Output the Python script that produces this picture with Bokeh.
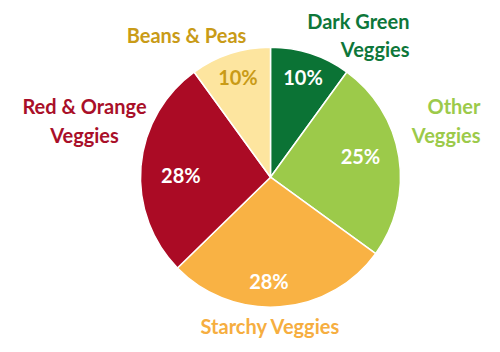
import math
from bokeh.plotting import figure
from bokeh.models import ColumnDataSource, Range1d
from bokeh.core.properties import value
from bokeh.embed import file_html
from bokeh.resources import INLINE

# ---- data ----
categories = ["Dark Green\nVeggies", "Other\nVeggies", "Starchy Veggies",
              "Red & Orange\nVeggies", "Beans & Peas"]
shares = [10.0, 25.0, 27.7, 27.3, 10.0]
pct_labels = ["10%", "25%", "28%", "28%", "10%"]

# ---- styles / layout ----
slice_colors = ["#0b7335", "#9cca4a", "#f9b244", "#ab0b25", "#fde59f"]
name_colors = ["#0e773a", "#9cca4a", "#f6ae40", "#a90f29", "#c99b17"]
pct_colors = ["white", "white", "white", "white", "#c99b17"]
pct_radius = [0.81, 0.71, 0.8, 0.69, 0.81]
pct_angle_shift_deg = [0.0, -4.0, 5.0, -3.5, 0.0]   # clockwise shift from mid-angle
name_x = [409, 480, 270, 84, 186]
name_y_px = [34.5, 120, 325, 120, 34]
name_align = ["right", "right", "center", "center", "center"]

W, H = 500, 352
cx, cy_px, R = 270, 176.7, 130

total = sum(shares)
starts, ends, px, py = [], [], [], []
cum = 0.0
for s, rf, sh in zip(shares, pct_radius, pct_angle_shift_deg):
    a0 = math.pi / 2 - 2 * math.pi * cum / total
    cum += s
    a1 = math.pi / 2 - 2 * math.pi * cum / total
    starts.append(a0)
    ends.append(a1)
    mid = (a0 + a1) / 2 - math.radians(sh)
    px.append(cx + rf * R * math.cos(mid))
    py.append((H - cy_px) + rf * R * math.sin(mid))

src = ColumnDataSource(dict(start=starts, end=ends, color=slice_colors,
                            px=px, py=py, pct=pct_labels, pcol=pct_colors))
nsrc = ColumnDataSource(dict(x=name_x, y=[H - v for v in name_y_px],
                             name=categories, col=name_colors, align=name_align))

p = figure(width=W, height=H, output_backend="svg", toolbar_location=None,
           x_range=Range1d(0, W), y_range=Range1d(0, H), min_border=0,
           x_axis_type=None, y_axis_type=None)
p.grid.visible = False
p.outline_line_color = None
p.background_fill_color = "white"
p.border_fill_color = "white"

p.wedge(x=cx, y=H - cy_px, radius=R, start_angle="start", end_angle="end",
        direction="clock", fill_color="color", line_color="white",
        line_width=1.5, source=src)

p.text(x="px", y="py", text="pct", text_color="pcol", source=src,
       text_font=value("Lato"), text_font_style="bold",
       text_font_size="20px", text_align="center", text_baseline="middle")

p.text(x="x", y="y", text="name", text_color="col", source=nsrc,
       text_font=value("Lato"), text_font_style="bold",
       text_font_size="20px", text_align="align", text_baseline="middle",
       text_line_height=1.2)

open("out.html", "w").write(file_html(p, INLINE))
